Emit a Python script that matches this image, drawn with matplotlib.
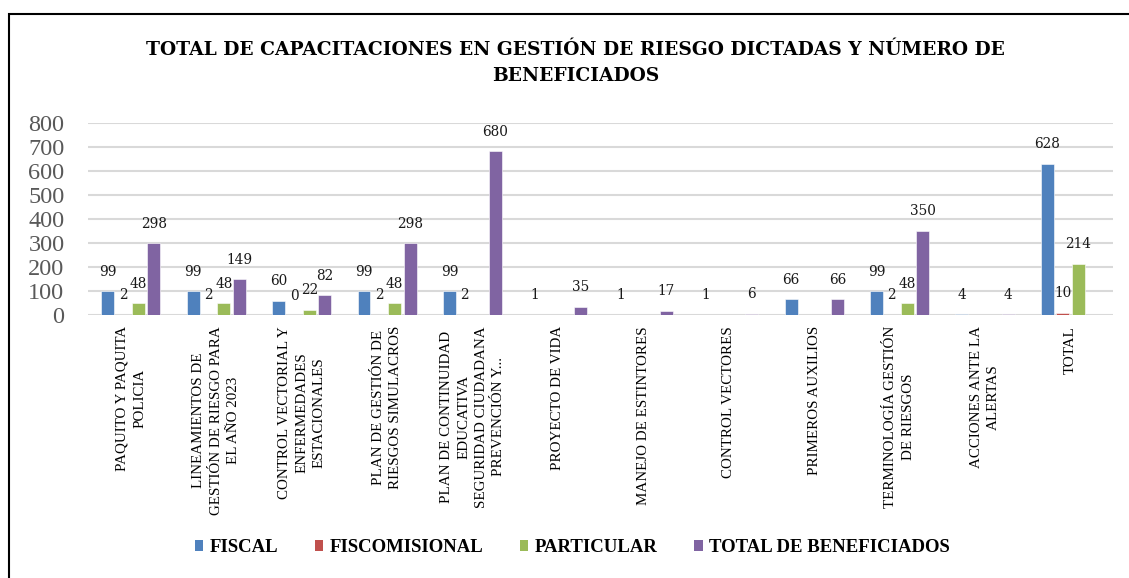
import numpy as np
import matplotlib
matplotlib.use('Agg')
import matplotlib.pyplot as plt
from matplotlib.patches import Patch, Rectangle

# datos
categorias = ['PAQUITO Y PAQUITA\nPOLICIA',
              'LINEAMIENTOS DE\nGESTIÓN DE RIESGO PARA\nEL AÑO 2023',
              'CONTROL VECTORIAL Y\nENFERMEDADES\nESTACIONALES',
              'PLAN DE GESTIÓN DE\nRIESGOS SIMULACROS',
              'PLAN DE CONTINUIDAD\nEDUCATIVA\nSEGURIDAD CIUDADANA\nPREVENCIÓN Y...',
              'PROYECTO DE VIDA',
              'MANEJO DE ESTINTORES',
              'CONTROL VECTORES',
              'PRIMEROS AUXILIOS',
              'TERMINOLOGÍA GESTIÓN\nDE RIESGOS',
              'ACCIONES ANTE LA\nALERTAS',
              'TOTAL']
nan = np.nan
fiscal = [99, 99, 60, 99, 99, 1, 1, 1, 66, 99, 4, 628]
fiscomisional = [2, 2, 0, 2, 2, nan, nan, nan, nan, 2, nan, 10]
particular = [48, 48, 22, 48, nan, nan, nan, nan, nan, 48, nan, 214]
total_benef = [298, 149, 82, 298, 680, 35, 17, 6, 66, 350, 4, nan]

series = ['FISCAL', 'FISCOMISIONAL', 'PARTICULAR', 'TOTAL DE BENEFICIADOS']
valores = [fiscal, fiscomisional, particular, total_benef]
colores = ['#4F81BD', '#C0504D', '#9BBB59', '#8064A2']

serif = ['DejaVu Serif']
plt.rcParams['font.family'] = serif

fig = plt.figure(figsize=(11.29, 5.78), dpi=100)
ax = fig.add_axes([0.078, 0.455, 0.908, 0.333])

x = np.arange(len(categorias))
paso = 0.18
ancho = 0.152
for k, (nom, vals, col) in enumerate(zip(series, valores, colores)):
    v = np.array(vals, dtype=float)
    pos = x + (k - 1.5) * paso
    bars = ax.bar(pos, np.nan_to_num(v), width=ancho, color=col,
                  edgecolor='white', linewidth=0.4, label=nom, zorder=3)
    etiquetas = ['' if np.isnan(a) else str(int(a)) for a in v]
    ax.bar_label(bars, labels=etiquetas, padding=9, fontsize=9.8,
                 color='#1a1a1a', family=serif)

ax.set_xlim(-0.5, len(categorias) - 0.5)
ax.set_ylim(0, 800)
ax.set_yticks(range(0, 801, 100))
ax.yaxis.grid(True, color='#d9d9d9', linewidth=1.5, zorder=0)
ax.set_axisbelow(True)
for s in ax.spines.values():
    s.set_visible(False)
ax.tick_params(axis='y', length=0, labelsize=17.5, labelcolor='#595959', pad=17)
ax.set_xticks(x)
ax.set_xticklabels(categorias, rotation=90, fontsize=10.8, family=['Liberation Serif'],
                   ha='center', va='top', multialignment='center')
ax.tick_params(axis='x', length=0, pad=8)
for t in ax.get_xticklabels():
    t.set_linespacing(1.45)
for t in ax.get_yticklabels():
    t.set_family(['Liberation Serif'])

fig.text(0.51, 0.891, 'TOTAL DE CAPACITACIONES EN GESTIÓN DE RIESGO DICTADAS Y NÚMERO DE\nBENEFICIADOS',
         ha='center', va='center', fontsize=13.4, fontweight='bold',
         linespacing=1.55, family=serif)

handles = [Patch(facecolor=c) for c in colores]
fig.legend(handles, series, loc='center', bbox_to_anchor=(0.507, 0.052), ncol=4,
           frameon=False, handlelength=0.45, handleheight=0.5, handletextpad=0.35,
           columnspacing=1.95,
           prop={'family': 'Liberation Serif', 'weight': 'bold', 'size': 13.5})

fig.patches.append(Rectangle((9 / 1129, -0.02), 1.05, 1 - 14 / 578 + 0.02,
                             transform=fig.transFigure, fill=False,
                             edgecolor='black', linewidth=1.5))

fig.savefig('out.png', dpi=100)
